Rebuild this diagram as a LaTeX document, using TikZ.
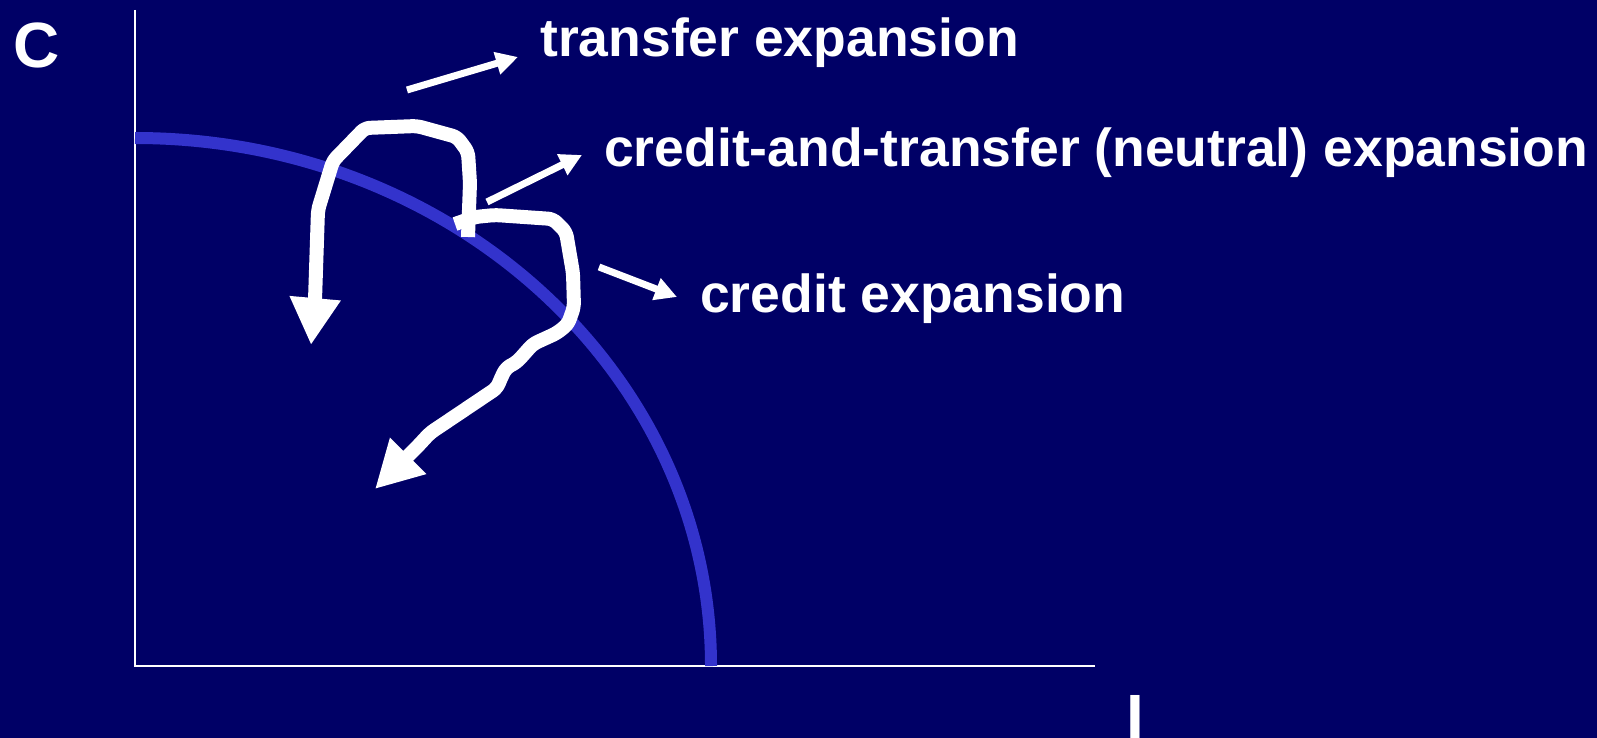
\documentclass[tikz,border=0pt]{standalone}
\usepackage{fontspec}
\setmainfont{Liberation Sans}
\usetikzlibrary{arrows.meta, positioning}
\definecolor{slideNavy}{HTML}{000066}
\definecolor{frontierBlue}{HTML}{3333CC}

\begin{document}
\begin{tikzpicture}[
    x=1pt, y=-1pt,
    font=\bfseries,
    % Axis Lines
    axis/.style={
        draw=white,
        line width=2pt
    },
    % Production Frontier
    frontier/.style={
        draw=frontierBlue,
        line width=12pt
    },
    % Thick Wavy Movement Arrows
    bigarrow/.style={
        draw=white,
        line width=14pt,
        line join=round,
        rounded corners=5pt,
        -{Triangle[length=47pt, width=48pt]}
    },
    % Thin Pointer Arrows
    pointer/.style={
        draw=white,
        line width=7pt,
        -{Triangle[length=22pt, width=22pt]}
    },
    % Text Labels
    label/.style={
        text=white,
        inner sep=0pt,
        anchor=base west,
        font=\fontsize{53.5}{60}\selectfont\bfseries
    },
    axislabel/.style={
        text=white,
        inner sep=0pt,
        anchor=base west,
        font=\fontsize{64}{70}\selectfont\bfseries
    }
]

% --- BACKGROUND ---
\useasboundingbox (0,0) rectangle (1597,738);
\fill[slideNavy] (0,0) rectangle (1597,738);

% --- AXES ---
\coordinate (Origin) at (135,666);
\coordinate (YTop) at (135,10);
\coordinate (XEnd) at (1095,666);
\draw[axis] (YTop) -- (Origin) -- (XEnd);
\node[axislabel] (AxisC) at (13,68) {C};
\node[axislabel] (AxisI) at (1126,739) {I};

% --- FRONTIER ---
\draw[frontier] (135,138) arc[start angle=-90, end angle=0, x radius=576, y radius=528];

% --- LABELS ---
\node[label] (TransferLbl) at (540,57) {transfer expansion};
\node[label] (NeutralLbl) at (604,167) {credit-and-transfer (neutral) expansion};
\node[label] (CreditLbl) at (700,312) {credit expansion};

% --- POINTERS ---
\coordinate (TransferTail) at (407,90);
\coordinate (TransferTip) at (518,57);
\coordinate (NeutralTail) at (487,202);
\coordinate (NeutralTip) at (582,155);
\coordinate (CreditTail) at (599,267);
\coordinate (CreditTip) at (677,297);
\draw[pointer] (TransferTail) -- (TransferTip);
\draw[pointer] (NeutralTail) -- (NeutralTip);
\draw[pointer] (CreditTail) -- (CreditTip);

% --- MOVEMENTS ---
% transfer expansion path
\draw[bigarrow] (468,237) -- (470,183) -- (468,152) -- (457,137) -- (417,126)
    -- (365,128) -- (333,161) -- (318,210) -- (315,300) -- (311,345);
% credit expansion path
\draw[bigarrow] (455,224) -- (475,217) -- (495,215) -- (553,219) -- (566,232)
    -- (573,273) -- (574,307) -- (568,324) -- (557,333) -- (533,344) -- (517,362)
    -- (506,368) -- (501,378) -- (497,388) -- (430,433) -- (418,446) -- (375,489);

\end{tikzpicture}
\end{document}
